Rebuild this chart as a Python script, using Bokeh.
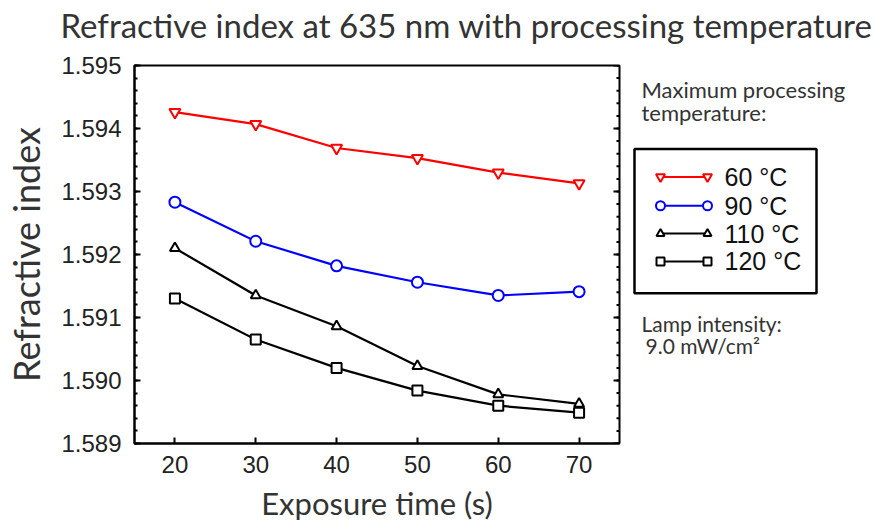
import math
from bokeh.plotting import figure
from bokeh.layouts import column, row
from bokeh.models import (Range1d, FixedTicker, NumeralTickFormatter, Label, ColumnDataSource)
from bokeh.embed import file_html
from bokeh.resources import INLINE

# ---------------- data ----------------
exposure = [20, 30, 40, 50, 60, 70]
n_60 = [1.59426, 1.59407, 1.59369, 1.59353, 1.59330, 1.59313]
n_90 = [1.59283, 1.59221, 1.59182, 1.59156, 1.59135, 1.59141]
n_110 = [1.59210, 1.59135, 1.59086, 1.59023, 1.58978, 1.58963]
n_120 = [1.59130, 1.59065, 1.59020, 1.58984, 1.58960, 1.58949]
series_labels = ["60 \u00b0C", "90 \u00b0C", "110 \u00b0C", "120 \u00b0C"]
x_ticks = [20, 30, 40, 50, 60, 70]
y_ticks = [1.589, 1.590, 1.591, 1.592, 1.593, 1.594, 1.595]
title_text = "Refractive index at 635 nm with processing temperature"
x_label = "Exposure time (s)"
y_label = "Refractive index"
legend_heading = ["Maximum processing", "temperature:"]
lamp_text = ["Lamp intensity:", "9.0 mW/cm\u00b2"]

series = [n_60, n_90, n_110, n_120]
colors = ["#ff0000", "#0000ff", "#000000", "#000000"]
markers = ["inverted_triangle", "circle", "triangle", "square"]
msizes = [11, 11, 10, 10]

LABEL_FONT = "Lato"
TICK_FONT = "Liberation Sans"
TEXT_COLOR = "#333333"

# page layout (pixels)
TITLE_H = 50
FIG_H = 474
F_LEFT, F_RIGHT, F_TOP, F_BOTTOM = 134, 619, 65, 445   # frame box on page
MAIN_W = 625
SIDE_W = 250

X0, X1 = 15, 75
Y0, Y1 = 1.589, 1.595

# ---------------- title strip ----------------
pt = figure(width=MAIN_W + SIDE_W, height=TITLE_H,
            x_range=Range1d(0, MAIN_W + SIDE_W), y_range=Range1d(TITLE_H, 0),
            output_backend="svg", toolbar_location=None,
            x_axis_location=None, y_axis_location=None,
            min_border=0, outline_line_color=None)
pt.grid.visible = False
pt.add_layout(Label(x=60, y=24, text=title_text, text_font=LABEL_FONT,
                    text_font_size="33px", text_color=TEXT_COLOR,
                    text_baseline="middle", text_align="left"))

# ---------------- main plot ----------------
p = figure(width=MAIN_W, height=FIG_H, x_range=Range1d(X0, X1), y_range=Range1d(Y0, Y1),
           output_backend="svg", toolbar_location=None,
           min_border_left=F_LEFT, min_border_right=MAIN_W - F_RIGHT,
           min_border_top=F_TOP - TITLE_H, min_border_bottom=TITLE_H + FIG_H - F_BOTTOM)
p.grid.visible = False
p.outline_line_color = "black"
p.outline_line_width = 2

minor_y = [round(Y0 + i * 0.0002, 4) for i in range(31)]
yt = FixedTicker(ticks=y_ticks, minor_ticks=minor_y)
xt = FixedTicker(ticks=x_ticks, minor_ticks=[])

xa = p.xaxis[0]
xa.ticker = xt
xa.axis_label = x_label
xa.axis_label_text_font = LABEL_FONT
xa.axis_label_text_font_size = "31px"
xa.axis_label_text_font_style = "normal"
xa.axis_label_text_color = TEXT_COLOR
xa.axis_label_standoff = 8
xa.major_label_text_font = TICK_FONT
xa.major_label_text_font_size = "24px"
xa.major_label_text_color = "#222222"
xa.major_label_standoff = 12
xa.major_tick_in = 6
xa.major_tick_out = 0
xa.minor_tick_in = 0
xa.minor_tick_out = 0
xa.axis_line_width = 2
xa.major_tick_line_width = 2

ya = p.yaxis[0]
ya.ticker = yt
ya.formatter = NumeralTickFormatter(format="0.000")
ya.axis_label = y_label
ya.axis_label_text_font = LABEL_FONT
ya.axis_label_text_font_size = "36px"
ya.axis_label_text_font_style = "normal"
ya.axis_label_text_color = TEXT_COLOR
ya.axis_label_standoff = 10
ya.major_label_text_font = TICK_FONT
ya.major_label_text_font_size = "24px"
ya.major_label_text_color = "#222222"
ya.major_label_standoff = 13
ya.major_tick_in = 6
ya.major_tick_out = 0
ya.minor_tick_in = 3
ya.minor_tick_out = 0
ya.axis_line_width = 2
ya.major_tick_line_width = 2
ya.minor_tick_line_width = 2

# inward ticks on the right edge of the box
p.ray(x=[X1] * len(y_ticks), y=y_ticks, length=6, angle=math.pi,
      length_units="screen", line_color="black", line_width=2)
p.ray(x=[X1] * len(minor_y), y=minor_y, length=3, angle=math.pi,
      length_units="screen", line_color="black", line_width=2)

for vals, c, m, s in zip(series, colors, markers, msizes):
    src = ColumnDataSource(dict(x=exposure, y=vals))
    p.line("x", "y", source=src, line_color=c, line_width=2.2)
    p.scatter("x", "y", source=src, marker=m, size=s, line_color=c,
              fill_color="white", line_width=2)

# ---------------- side panel (legend + notes), page pixel coordinates ----------------
ps = figure(width=SIDE_W, height=FIG_H, x_range=Range1d(MAIN_W, MAIN_W + SIDE_W),
            y_range=Range1d(F_BOTTOM, F_TOP),
            output_backend="svg", toolbar_location=None,
            x_axis_location=None, y_axis_location=None,
            min_border_left=0, min_border_right=0,
            min_border_top=F_TOP - TITLE_H, min_border_bottom=TITLE_H + FIG_H - F_BOTTOM,
            outline_line_color=None)
ps.grid.visible = False

for t, yy in zip(legend_heading, [89, 112]):
    ps.add_layout(Label(x=641, y=yy, text=t, text_font=LABEL_FONT,
                        text_font_size="22px", text_color=TEXT_COLOR,
                        text_baseline="middle"))
for t, xx, yy in zip(lamp_text, [641, 645], [324, 346]):
    ps.add_layout(Label(x=xx, y=yy, text=t, text_font=LABEL_FONT,
                        text_font_size="21px", text_color=TEXT_COLOR,
                        text_baseline="middle"))

# legend box
ps.quad(left=[634], right=[816], top=[149], bottom=[294], fill_color=None,
        line_color="black", line_width=2.5)

row_y = [177, 206, 234, 262]
for lab, c, m, s, yy in zip(series_labels, colors, markers, msizes, row_y):
    ps.line([660, 707], [yy, yy], line_color=c, line_width=2)
    ps.scatter([660, 707], [yy, yy], marker=m, size=s - 2, line_color=c,
               fill_color="white", line_width=2)
    ps.add_layout(Label(x=724, y=yy, text=lab, text_font=TICK_FONT,
                        text_font_size="25px", text_color="#111111",
                        text_baseline="middle"))

layout = column(pt, row(p, ps))
open("out.html", "w").write(file_html(layout, INLINE))
